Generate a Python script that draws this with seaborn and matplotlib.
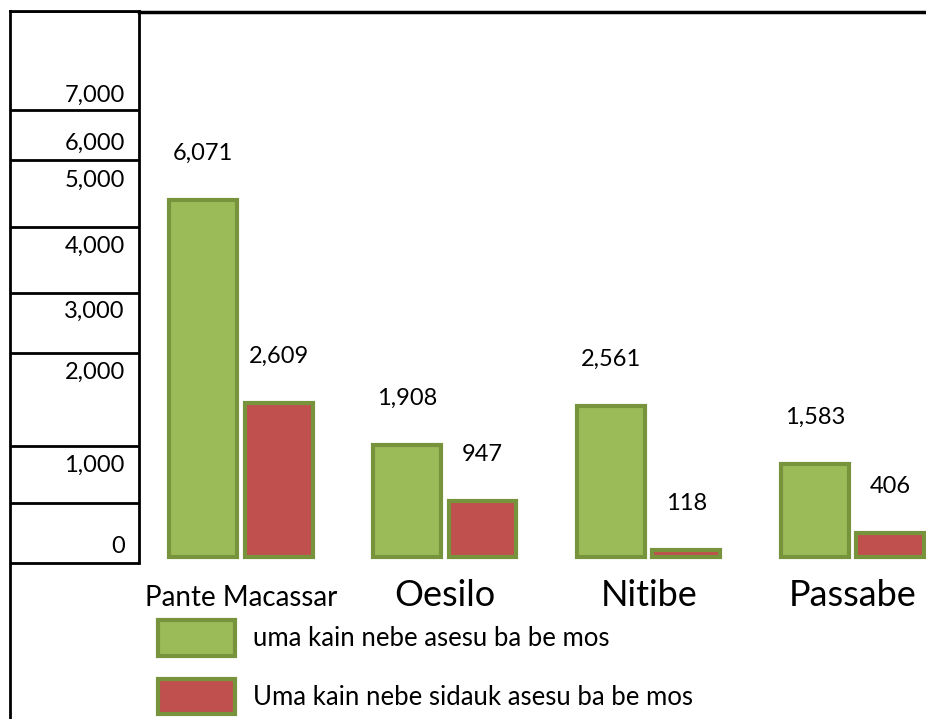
import pandas as pd
import matplotlib.pyplot as plt
import seaborn as sns

# Dados: uma kain ho asesu ba be mos, tuir postu administrativu
postu = ["Pante Macassar", "Oesilo", "Nitibe", "Passabe"]
asesu = [6071, 1908, 2561, 1583]
la_asesu = [2609, 947, 118, 406]
serie = ["uma kain nebe asesu ba be mos", "Uma kain nebe sidauk asesu ba be mos"]
eixo_y = ["7,000", "6,000", "5,000", "4,000", "3,000", "2,000", "1,000", "0"]

df = pd.DataFrame({
    "Postu": postu * 2,
    "Uma kain": asesu + la_asesu,
    "Serie": [serie[0]] * len(postu) + [serie[1]] * len(postu),
})

sns.set_theme(style="white")
plt.rcParams["font.family"] = ["Lato", "DejaVu Sans"]

W, H = 926, 719
fig = plt.figure(figsize=(W / 100, H / 100), dpi=100)

def fx(px):
    return px / W

def fy(py):
    return 1 - py / H

# area grafiku
ax = fig.add_axes([fx(139), fy(557), fx(926 - 139), fy(12) - fy(557)])
sns.barplot(data=df, x="Postu", y="Uma kain", hue="Serie", hue_order=serie,
            palette=["#9BBB59", "#C0504D"], width=0.74, gap=0.1,
            edgecolor="#77933C", linewidth=3, saturation=1, ax=ax)
ax.set_ylim(0, 9260)
ax.set_xlim(-0.5, 3.36)
ax.set_xlabel("")
ax.set_ylabel("")
ax.set_yticks([])
for s in ["left", "right", "bottom"]:
    ax.spines[s].set_visible(False)
ax.spines["top"].set_color("black")
ax.spines["top"].set_linewidth(2.5)

for p in ax.patches:
    p.set_clip_on(False)

for c in ax.containers:
    ax.bar_label(c, labels=[f"{v:,.0f}" for v in c.datavalues],
                 padding=26, fontsize=17, color="black")

ax.tick_params(axis="x", length=0, pad=35)
for i, lbl in enumerate(ax.get_xticklabels()):
    lbl.set_va("baseline")
    lbl.set_fontsize(20 if i == 0 else 26)
    lbl.set_color("black")

sns.move_legend(ax, "upper left", bbox_to_anchor=(fx(158), fy(620)),
                bbox_transform=fig.transFigure, frameon=False, title=None,
                fontsize=18.5, handlelength=3.0, handleheight=1.75,
                handletextpad=0.7, labelspacing=0.9, borderpad=0,
                borderaxespad=0)
for t in ax.get_legend().get_texts():
    t.set_color("black")

# koluna eixo Y iha kaixa sira
axc = fig.add_axes([fx(10), 0, fx(139 - 10), fy(11)])
axc.set_xlim(0, 1)
axc.set_ylim(H, 11)
axc.set_xticks([])
axc.set_yticks([])
axc.set_facecolor("none")
for s in axc.spines.values():
    s.set_color("black")
    s.set_linewidth(2)
axc.spines["bottom"].set_visible(False)
axc.spines["right"].set_bounds(563, 11)
axc.hlines([11, 110, 160, 227, 293, 353, 446, 503, 563], 0, 1,
           color="black", linewidth=2)
pos_y = [95, 143, 180, 246, 311, 372, 465, 547]
for lab, y in zip(eixo_y, pos_y):
    axc.text(0.89, y, lab, ha="right", va="center", fontsize=17, color="black")

fig.savefig("out.png", dpi=100)
